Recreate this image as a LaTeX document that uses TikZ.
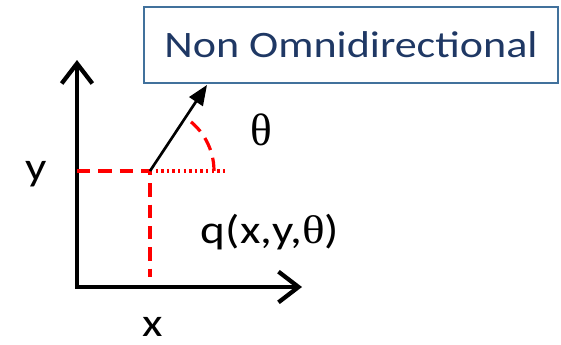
\documentclass[tikz,border=0pt]{standalone}
\usepackage{fontspec}
\setmainfont{Carlito}
\newfontfamily\greekfont{Liberation Serif}
\usetikzlibrary{arrows.meta, positioning}
\definecolor{boxblue}{RGB}{65,113,156}
\definecolor{textnavy}{RGB}{31,56,100}
\newcommand{\stretchtext}[1]{\scalebox{1.18}[1]{#1}}

\begin{document}
\begin{tikzpicture}[
  x=0.75pt, y=0.75pt,
  every node/.style={inner sep=0pt},
  axis/.style={line width=3.2pt, line join=miter, {Straight Barb[length=15pt, width=23pt]}-{Straight Barb[length=15pt, width=23pt]}},
  heading/.style={rectangle, draw=boxblue, line width=1.5pt, text=textnavy, minimum width=310.5pt, minimum height=57pt, font=\fontsize{28}{32}\selectfont},
  vector/.style={line width=2pt, -{Triangle[length=15pt, width=12pt]}},
  guide/.style={red, line width=2.4pt, dash pattern=on 10pt off 6pt},
  dots/.style={red, line width=2.6pt, dash pattern=on 1.8pt off 2.4pt},
  label/.style={font=\fontsize{30}{34}\selectfont}
]
  \useasboundingbox (0,0) rectangle (561,344);

  % Axes
  \coordinate (origin) at (77,57);
  \coordinate (ytop) at (77,284);
  \coordinate (xend) at (302,57);
  \draw[axis] (ytop) -- (origin) -- (xend);

  % Pose
  \coordinate (pose) at (150,173);
  \coordinate (yfoot) at (77,173);
  \coordinate (xfoot) at (150,67);
  \coordinate (heading end) at (228,173);
  \coordinate (tip) at (207,259);
  \draw[guide] (yfoot) -- (pose) -- (xfoot);
  \draw[dots] (pose) -- (heading end);
  \draw[guide] ([shift={(0:64)}]pose) arc[start angle=0, end angle=57, radius=64];
  \draw[vector] (pose) -- (tip);

  % Labels
  \node[heading] (title) at (351,299) {\stretchtext{Non Omnidirectional}};
  \node[font=\greekfont\fontsize{34}{38}\selectfont] (theta) at (261,214) {θ};
  \node[label] (config) at (270,112) {\stretchtext{q(x,y,{\greekfont θ})}};
  \node[label] (ylab) at (36,170) {\stretchtext{y}};
  \node[label] (xlab) at (153,17) {\stretchtext{x}};
\end{tikzpicture}
\end{document}
